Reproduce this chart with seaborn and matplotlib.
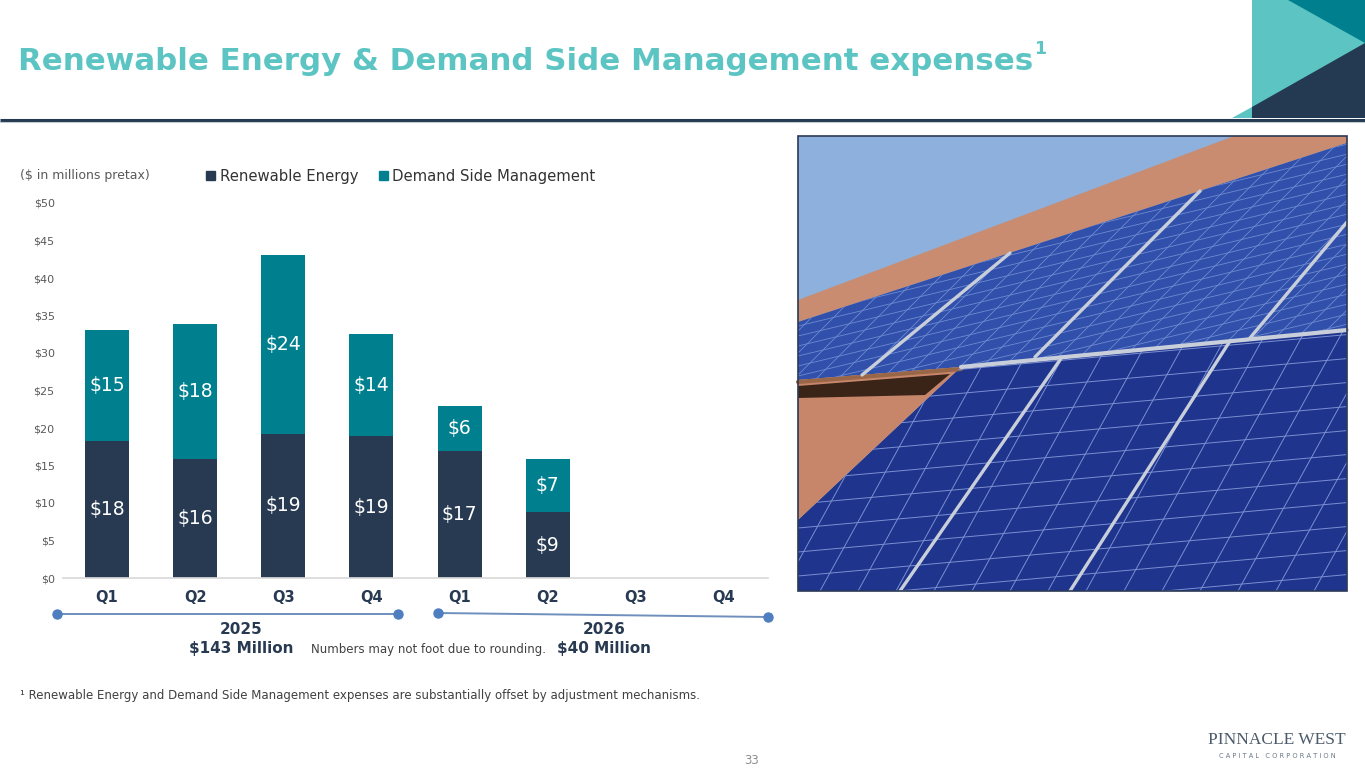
import numpy as np
import pandas as pd
import matplotlib
matplotlib.use("Agg")
import matplotlib.pyplot as plt
from matplotlib.patches import Polygon, Rectangle, Patch
import seaborn as sns

# data ($ millions pretax)
slots = ["2025 Q1", "2025 Q2", "2025 Q3", "2025 Q4",
         "2026 Q1", "2026 Q2", "2026 Q3", "2026 Q4"]
quarters = ["Q1", "Q2", "Q3", "Q4", "Q1", "Q2", "Q3", "Q4"]
bar_slots = slots[:6]
renewable = [18.3, 15.9, 19.2, 18.9, 16.9, 8.8]
dsm = [14.8, 18.0, 23.9, 13.6, 6.1, 7.1]
y_ticks = list(range(0, 55, 5))
years = ["2025", "2026"]
year_totals = ["$143 Million", "$40 Million"]

NAVY = "#283a52"
TEAL = "#00808f"
LIGHT_TEAL = "#5cc5c3"
TXT = "#404040"

df = pd.DataFrame({"slot": bar_slots, "re": renewable, "dsm": dsm})
df["total"] = df["re"] + df["dsm"]

sns.set_theme(style="white")
plt.rcParams["font.family"] = ["DejaVu Sans"]

fig = plt.figure(figsize=(13.65, 7.68), dpi=100)
ax = fig.add_axes([63 / 1365, 190 / 768, 705 / 1365, 375 / 768])

# stacked bars: totals in teal, renewable on top of it in navy
sns.barplot(data=df, x="slot", y="total", order=slots, color=TEAL, width=0.5,
            saturation=1, errorbar=None, linewidth=0, ax=ax)
sns.barplot(data=df, x="slot", y="re", order=slots, color=NAVY, width=0.5,
            saturation=1, errorbar=None, linewidth=0, ax=ax)

ax.bar_label(ax.containers[1], labels=[f"${round(v)}" for v in df["re"]],
             label_type="center", color="white", fontsize=13.5)
for i, (r, d) in enumerate(zip(df["re"], df["dsm"])):
    ax.text(i, r + d / 2, f"${round(d)}", ha="center", va="center",
            color="white", fontsize=13.5)

ax.set_xlim(-0.5, 7.5)
ax.set_ylim(0, 50)
ax.set_yticks(y_ticks)
ax.set_yticklabels([f"${v}" for v in y_ticks])
ax.set_xticks(range(len(quarters)))
ax.set_xticklabels(quarters, fontweight="bold", fontsize=10.5, color=NAVY)
ax.tick_params(axis="y", length=0, labelsize=8, labelcolor="#595959", pad=6)
ax.tick_params(axis="x", length=0, pad=9)
ax.set_xlabel("")
ax.set_ylabel("")
sns.despine(ax=ax, left=True)
ax.spines["bottom"].set_color("#d9d9d9")
ax.patch.set_visible(False)

fig.legend(handles=[Patch(color=NAVY, label="Renewable Energy"),
                    Patch(color=TEAL, label="Demand Side Management")],
           loc="center left", bbox_to_anchor=(199 / 1365, 1 - 176 / 768),
           ncol=2, frameon=False, fontsize=10.7, handlelength=0.6,
           handleheight=0.6, handletextpad=0.3, columnspacing=1.4,
           borderpad=0, labelcolor="#333333")

# slide decoration in pixel coordinates
deco = fig.add_axes([0, 0, 1, 1])
deco.set_xlim(0, 1365)
deco.set_ylim(768, 0)
deco.axis("off")

deco.add_patch(Polygon([(1252, 0), (1365, 0), (1365, 118), (1252, 118)],
                       facecolor=LIGHT_TEAL, edgecolor="none"))
deco.add_patch(Polygon([(1288, 0), (1365, 0), (1365, 43)],
                       facecolor=TEAL, edgecolor="none"))
deco.add_patch(Polygon([(1232, 118), (1252, 118), (1252, 107)],
                       facecolor=LIGHT_TEAL, edgecolor="none"))
deco.add_patch(Polygon([(1365, 43), (1365, 118), (1252, 118), (1252, 107)],
                       facecolor="#243a53", edgecolor="none"))
deco.plot([0, 1365], [119.5, 119.5], color="#243a53", lw=2.2,
          solid_capstyle="butt")
deco.plot([0, 1365], [122, 122], color="#c3c9d1", lw=0.8)

title = deco.text(18, 61, "Renewable Energy & Demand Side Management expenses",
                  fontsize=22.2, fontweight="bold", color=LIGHT_TEAL,
                  va="center")
fig.canvas.draw()
tx = title.get_window_extent().x1
deco.text(tx + 1, 49, "1", fontsize=12.5, fontweight="bold",
          color=LIGHT_TEAL, va="center")

deco.text(20, 176, "($ in millions pretax)", fontsize=9, color="#595959",
          va="center")

# year timelines under the quarters
deco.plot([57, 398], [614, 614], color="#6f8fbd", lw=1.4, marker="o",
          markersize=6.5, markerfacecolor="#4f7ec0", markeredgecolor="#4f7ec0")
deco.plot([438, 768], [613, 617], color="#6f8fbd", lw=1.4, marker="o",
          markersize=6.5, markerfacecolor="#4f7ec0", markeredgecolor="#4f7ec0")
for xc, yr, tot in zip([241, 604], years, year_totals):
    deco.text(xc, 630, yr, ha="center", va="center", fontsize=11,
              fontweight="bold", color=NAVY)
    deco.text(xc, 648, tot, ha="center", va="center", fontsize=11,
              fontweight="bold", color=NAVY)
deco.text(311, 649, "Numbers may not foot due to rounding.", fontsize=8.5,
          color=TXT, va="center")
deco.text(20, 696, "\u00b9 Renewable Energy and Demand Side Management expenses "
          "are substantially offset by adjustment mechanisms.",
          fontsize=8.5, color=TXT, va="center")
deco.text(752, 760, "33", fontsize=8.5, color="#8c8c8c", ha="center",
          va="center")

deco.text(1277, 740, "PINNACLE WEST", family="Liberation Serif", fontsize=12.5,
          color="#4b5a6b", ha="center", va="center")
deco.text(1277, 756, "C A P I T A L   C O R P O R A T I O N", fontsize=4.8,
          color="#6b7785", ha="center", va="center")

# stylised rooftop solar photo
px0, py0, px1, py1 = 798, 136, 1347, 591
frame = Rectangle((px0, py0), px1 - px0, py1 - py0, facecolor="none",
                  edgecolor="#2b3a55", lw=1.2, zorder=5)
deco.add_patch(frame)


def region(pts, color):
    p = Polygon(pts, closed=True, facecolor=color, edgecolor="none")
    deco.add_patch(p)
    p.set_clip_path(frame)
    return p


def cells(clip, slope, step, lean, gap, color, lw):
    for y0 in np.arange(py0 - 400, py1 + 200, step):
        ln, = deco.plot([px0, px1], [y0, y0 + slope * (px1 - px0)],
                        color=color, lw=lw)
        ln.set_clip_path(clip)
    for x0 in np.arange(px0 - 700, px1 + 100, gap):
        ln, = deco.plot([x0, x0 + lean * (py1 - py0)], [py1, py0],
                        color=color, lw=lw)
        ln.set_clip_path(clip)


region([(px0, py0), (px1, py0), (px1, py1), (px0, py1)], "#8db1dc")
region([(px0, 300), (1234, py0), (px1, py0), (px1, 143), (px0, 322)], "#c98c70")
upper = region([(px0, 322), (px1, 143), (px1, 330), (961, 367), (px0, 380)],
               "#3050ab")
lower = region([(961, 367), (px1, 330), (px1, py1), (px0, py1), (px0, 520)],
               "#1f348c")
region([(px0, 380), (961, 367), (px0, 520)], "#c7866a")
region([(px0, 386), (950, 374), (925, 395), (px0, 398)], "#3a2418")
deco.plot([px0, 961], [382, 369], color="#9a6648", lw=3)

cells(upper, -0.24, 10, 1.0, 22, "#6f8ad0", 0.6)
cells(lower, -0.09, 24, 0.55, 38, "#7b8fd2", 0.7)

rail = "#c9cfda"
deco.plot([961, px1], [367, 330], color=rail, lw=3)
for (xa, ya), (xb, yb) in [((1010, 253), (862, 375)),
                           ((1200, 191), (1035, 357)),
                           ((1347, 222), (1250, 338)),
                           ((1062, 357), (900, 591)),
                           ((1230, 341), (1070, 591))]:
    ln, = deco.plot([xa, xb], [ya, yb], color=rail, lw=2.4)
    ln.set_clip_path(frame)

fig.savefig("out.png", dpi=100)
